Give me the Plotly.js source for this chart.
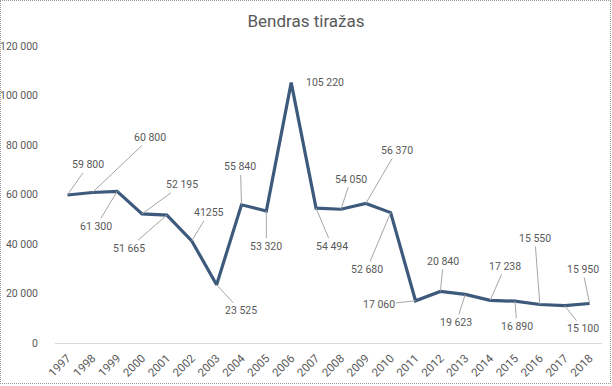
<!DOCTYPE html>
<html>
<head>
<meta charset="utf-8">
<script src="https://cdn.plot.ly/plotly-3.0.1.min.js"></script>
<style>
  html, body { margin: 0; padding: 0; background: #fff; }
  #wrap { position: relative; width: 612px; height: 386px; }
  #chart { width: 612px; height: 386px; }
  #frame { position: absolute; left: 0; top: 0; width: 611px; height: 384px; box-sizing: border-box;
           border: 1px dotted #9a9a9a; pointer-events: none; }
</style>
</head>
<body>
<div id="wrap"><div id="chart"></div><div id="frame"></div></div>
<script>
const years = ["1997","1998","1999","2000","2001","2002","2003","2004","2005","2006","2007",
               "2008","2009","2010","2011","2012","2013","2014","2015","2016","2017","2018"];
const circulation = [59800, 60800, 61300, 52195, 51665, 41255, 23525, 55840, 53320, 105220, 54494,
                     54050, 56370, 52680, 17060, 20840, 19623, 17238, 16890, 15550, 15100, 15950];
const labelTexts = ["59 800","60 800","61 300","52 195","51 665","41255","23 525","55 840","53 320","105 220","54 494",
                    "54 050","56 370","52 680","17 060","20 840","19 623","17 238","16 890","15 550","15 100","15 950"];
const yTicks = [0, 20000, 40000, 60000, 80000, 100000, 120000];

// label offsets in pixels (style/position only)
const offsets = [[21,-30],[58,-55],[-21,35],[40,-29],[-38,33],[17,-28],[24,26],[-1,-38],[0,35],[34,0],[16,38],
                 [10,-30],[31,-53],[-24,57],[-37,4],[3,-30],[-9,28],[15,-34],[2,25],[-5,-66],[18,23],[-7,-34]];

const textColor = "#595959";
const fontFam = "Roboto, 'Noto Sans', sans-serif";

const annotations = years.map((yr, i) => {
  const [ax, ay] = offsets[i];
  const a = {
    x: i, y: circulation[i], xref: "x", yref: "y",
    text: labelTexts[i],
    font: {family: fontFam, size: 10.5, color: textColor},
  };
  if (i === 9) {
    a.showarrow = false; a.xshift = ax; a.yshift = -ay;
  } else {
    Object.assign(a, {showarrow: true, ax: ax, ay: ay, arrowhead: 0, arrowwidth: 1,
                      arrowcolor: "#a6a6a6", standoff: 0});
  }
  return a;
});

const trace = {
  x: years, y: circulation, type: "scatter", mode: "lines",
  line: {color: "#3d5a7c", width: 3.2},
  hoverinfo: "skip"
};

const layout = {
  width: 612, height: 386,
  margin: {l: 55, r: 10, t: 46, b: 43},
  paper_bgcolor: "#fff", plot_bgcolor: "#fff",
  separators: ", ",
  showlegend: false,
  title: {text: "Bendras tiražas", x: 0.5, xanchor: "center", y: 0.945, yanchor: "middle",
          font: {family: fontFam, size: 17, color: textColor}},
  xaxis: {
    type: "category", range: [-0.5, 21.5],
    tickangle: -45, tickfont: {family: fontFam, size: 11.5, color: textColor},
    showgrid: false, zeroline: false, showline: true, linecolor: "#d9d9d9", linewidth: 1,
    ticks: "", ticklabelstandoff: 3, fixedrange: true
  },
  yaxis: {
    range: [0, 120000], tickvals: yTicks, tickformat: ",d",
    tickfont: {family: fontFam, size: 10.5, color: textColor},
    showgrid: false, zeroline: false, showline: false, ticks: "",
    ticklabelstandoff: 16, fixedrange: true
  },
  annotations: annotations
};

Plotly.newPlot("chart", [trace], layout, {displayModeBar: false, staticPlot: true});
</script>
</body>
</html>
